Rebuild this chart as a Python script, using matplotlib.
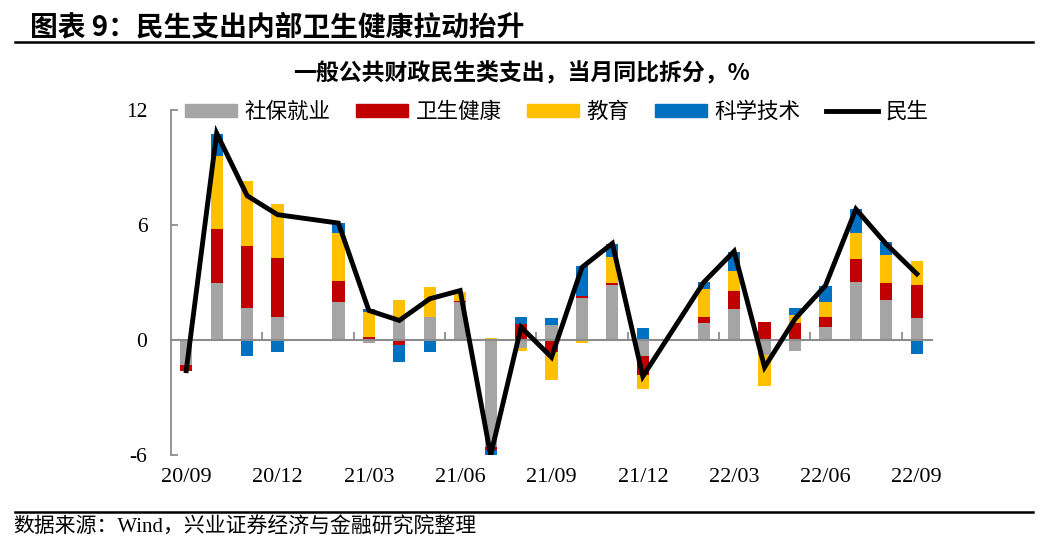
import numpy as np
import matplotlib
matplotlib.use("Agg")
import matplotlib.pyplot as plt
from matplotlib.lines import Line2D
from matplotlib.patches import Patch

plt.rcParams['font.family'] = ['Liberation Serif', 'Noto Sans CJK SC', 'DejaVu Sans']

months = ['20/09', '20/10', '20/11', '20/12', '21/01', '21/02', '21/03', '21/04', '21/05',
          '21/06', '21/07', '21/08', '21/09', '21/10', '21/11', '21/12', '22/01', '22/02',
          '22/03', '22/04', '22/05', '22/06', '22/07', '22/08', '22/09']
nan = np.nan
social = [-1.30, 2.96, 1.68, 1.19, nan, 2.00, -0.17, 1.02, 1.22, 1.97, -5.58, -0.41, 0.79,
          2.18, 2.87, -0.86, nan, 0.88, 1.62, -0.76, -0.58, 0.70, 3.01, 2.07, 1.15]
health = [-0.30, 2.81, 3.24, 3.07, nan, 1.10, 0.18, -0.24, 0.00, 0.09, -0.17, 0.81, -0.63,
          0.14, 0.09, -0.99, nan, 0.31, 0.92, 0.96, 0.88, 0.49, 1.23, 0.89, 1.74]
edu = [0.00, 3.84, 3.39, 2.85, nan, 2.48, 1.27, 1.09, 1.57, 0.47, 0.11, -0.17, -1.48,
       -0.17, 1.35, -0.71, nan, 1.48, 1.08, -1.65, 0.40, 0.81, 1.32, 1.49, 1.23]
tech = [0.00, 1.13, -0.84, -0.63, nan, 0.52, 0.19, -0.92, -0.65, 0.00, -0.35, 0.41, 0.36,
        1.56, 0.70, 0.63, nan, 0.34, 0.95, 0.00, 0.40, 0.84, 1.27, 0.64, -0.72]
total = [-1.60, 10.79, 7.53, 6.54, nan, 6.10, 1.54, 1.02, 2.15, 2.58, -6.02, 0.67, -0.90,
         3.79, 5.04, -1.90, nan, 3.01, 4.63, -1.42, 1.10, 2.84, 6.83, 5.00, 3.45]

series_names = ['社保就业', '卫生健康', '教育', '科学技术']
line_name = '民生'
colors = ['#A5A5A5', '#C00000', '#FFC000', '#0070C0']

fig = plt.figure(figsize=(10.48, 5.56), dpi=100)
W, H = 1048, 556
ax = fig.add_axes([171 / W, 1 - 455 / H, (932 - 171) / W, (455 - 110) / H])

x = np.arange(len(months))
pos_base = np.zeros(len(months))
neg_base = np.zeros(len(months))
for vals, c, name in zip([social, health, edu, tech], colors, series_names):
    v = np.nan_to_num(np.array(vals, dtype=float))
    pos = np.where(v > 0, v, 0)
    neg = np.where(v < 0, v, 0)
    ax.bar(x, pos, 0.4, bottom=pos_base, color=c, zorder=2)
    ax.bar(x, neg, 0.4, bottom=neg_base, color=c, zorder=2)
    pos_base += pos
    neg_base += neg

t = np.array(total, dtype=float)
m = ~np.isnan(t)
ax.plot(x[m], t[m], color='black', lw=3.5, zorder=4, solid_joinstyle='miter')

ax.set_xlim(-0.5, len(months) - 0.5)
ax.set_ylim(-6, 12)
ax.set_yticks([-6, 0, 6, 12])
ax.set_yticklabels(['-6', '0', '6', '12'])
for s in ['top', 'right']:
    ax.spines[s].set_visible(False)
ax.spines['left'].set_color('#8C8C8C')
ax.spines['left'].set_linewidth(1.3)
ax.spines['bottom'].set_position(('data', 0))
ax.spines['bottom'].set_color('#8C8C8C')
ax.spines['bottom'].set_linewidth(1.5)
ax.spines['bottom'].set_zorder(3)
ax.tick_params(axis='y', direction='in', length=5, width=1.3, color='#8C8C8C',
               labelsize=15.5, pad=17)
ax.set_xticks([])
ax.set_xticks(np.arange(2.5, len(months) - 1, 3), minor=True)
ax.tick_params(axis='x', which='minor', direction='in', length=6, width=1.3, color='#8C8C8C')

sec = ax.secondary_xaxis(0)
sec.set_xticks(x[::3])
sec.set_xticklabels(months[::3])
sec.tick_params(axis='x', length=0, labelsize=16, pad=9)
sec.spines['bottom'].set_visible(False)

handles = [Patch(color=c) for c in colors] + [Line2D([], [], color='black', lw=3.5)]
ax.legend(handles, series_names + [line_name], ncol=5, loc='center',
          bbox_to_anchor=(0.507, 0.994), frameon=False,
          prop={'family': ['Noto Sans CJK SC'], 'size': 15.5},
          handlelength=2.4, handleheight=0.5, handletextpad=0.35, columnspacing=1.2)

fig.text(30 / W, 1 - 27 / H, '图表 9：民生支出内部卫生健康拉动抬升', fontsize=20,
         fontweight='bold', va='center', ha='left', family=['Noto Sans CJK SC'])
fig.add_artist(Line2D([15 / W, 1033 / W], [1 - 42 / H] * 2, color='black', lw=1.8))
fig.text(522 / W, 1 - 74 / H, '一般公共财政民生类支出，当月同比拆分，%', fontsize=16.5,
         fontweight='bold', va='center', ha='center', family=['Noto Sans CJK SC'])
fig.add_artist(Line2D([15 / W, 1033 / W], [1 - 512 / H] * 2, color='black', lw=1.8))
fig.text(13 / W, 1 - 528 / H, '数据来源：Wind，兴业证券经济与金融研究院整理', fontsize=15,
         va='center', ha='left', family=['Liberation Serif', 'Noto Sans CJK SC'])

fig.savefig('out.png', dpi=100)
